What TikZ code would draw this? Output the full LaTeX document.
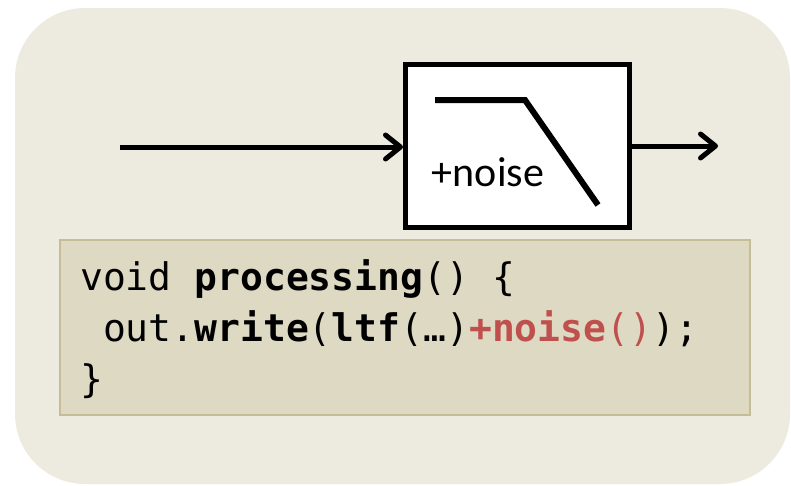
\documentclass[tikz,border=0pt]{standalone}
\usepackage{fontspec}
\setmainfont{Carlito}
\setmonofont{DejaVu Sans Mono}
\usepackage{xcolor}
\usepackage{tikz}
\usetikzlibrary{arrows.meta,positioning}

\definecolor{panelbg}{HTML}{EDEBE0}
\definecolor{codebg}{HTML}{DDD9C3}
\definecolor{codeline}{HTML}{C4BD97}
\definecolor{noisered}{HTML}{C0504D}

\begin{document}
\begin{tikzpicture}[x=1pt, y=-1pt,
  >={Straight Barb[length=15pt 0 0, width=24pt 0 0, round]},
  blk/.style={draw, line width=5pt, fill=white, minimum width=224pt, minimum height=163pt},
  codebox/.style={draw=codeline, line width=2pt, fill=codebg, minimum width=690pt, minimum height=175pt},
  sig/.style={->, line width=5pt}]
\useasboundingbox (0,0) rectangle (791,485);
\fill[panelbg, rounded corners=70pt] (15,8) rectangle (790,484);
% filter block with low-pass sketch
\node[blk] (filt) at (517.5,146) {};
\draw[line width=6pt] (435,100) -- (525,100) -- (598,205);
\node[font=\fontsize{42}{50}\selectfont, anchor=base, inner sep=0pt] (lbl) at (488,186) {+noise};
\coordinate (in) at (120,147);
\coordinate (out) at (718,146);
\draw[sig] (in) -- (in -| filt.west);
\draw[sig] (out -| filt.east) -- (out);
% code listing (base anchor sits on the last line)
\node[codebox] (code) at (405,327.5) {};
\node[font=\fontsize{38}{51}\selectfont\ttfamily, align=left, anchor=base west, inner sep=0pt] (src) at (80,392)
  {void \textbf{processing}() \{\\
   \ out.\textbf{write}(\textbf{ltf}(…)\textcolor{noisered}{\textbf{+noise}()});\\
   \}};
\end{tikzpicture}
\end{document}
